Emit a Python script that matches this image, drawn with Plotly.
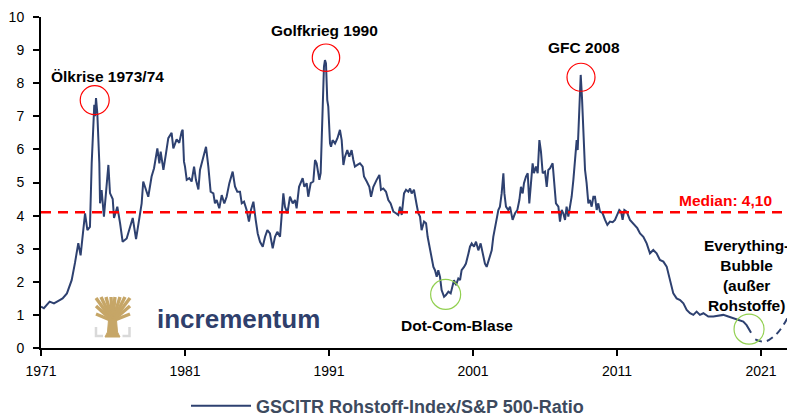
import plotly.graph_objects as go

# ---------------- data ----------------
YEARS = [1971.0, 1971.2, 1971.6, 1971.9, 1972.3, 1972.5, 1972.8, 1973.0, 1973.13, 1973.36, 1973.59, 1973.75, 1973.94,
         1974.06, 1974.22, 1974.4, 1974.52, 1974.63, 1974.7, 1974.75, 1974.82, 1974.91, 1975.05, 1975.1, 1975.21,
         1975.37, 1975.51, 1975.68, 1975.79, 1975.98, 1976.07, 1976.3, 1976.49, 1976.67, 1976.95, 1977.18, 1977.37,
         1977.6, 1977.83, 1977.99, 1978.1, 1978.29, 1978.45, 1978.68, 1978.85, 1979.08, 1979.22, 1979.31, 1979.5,
         1979.68, 1979.84, 1980.07, 1980.19, 1980.42, 1980.6, 1980.77, 1980.84, 1980.93, 1981.0, 1981.12, 1981.3,
         1981.46, 1981.63, 1981.76, 1981.93, 1982.04, 1982.23, 1982.46, 1982.62, 1982.78, 1982.97, 1983.08, 1983.2,
         1983.38, 1983.55, 1983.73, 1983.89, 1984.08, 1984.31, 1984.47, 1984.63, 1984.82, 1984.94, 1985.1, 1985.28,
         1985.44, 1985.58, 1985.75, 1985.91, 1986.05, 1986.21, 1986.4, 1986.56, 1986.72, 1986.9, 1987.09, 1987.25,
         1987.41, 1987.6, 1987.71, 1987.83, 1987.94, 1988.11, 1988.29, 1988.48, 1988.64, 1988.75, 1988.92, 1989.03,
         1989.17, 1989.29, 1989.45, 1989.56, 1989.73, 1989.91, 1990.03, 1990.14, 1990.33, 1990.42, 1990.56, 1990.65,
         1990.72, 1990.79, 1990.88, 1990.95, 1991.07, 1991.14, 1991.25, 1991.42, 1991.58, 1991.76, 1991.88, 1992.0,
         1992.11, 1992.27, 1992.41, 1992.57, 1992.69, 1992.8, 1992.97, 1993.15, 1993.34, 1993.43, 1993.62, 1993.8,
         1993.92, 1994.08, 1994.31, 1994.5, 1994.61, 1994.77, 1994.96, 1995.12, 1995.28, 1995.47, 1995.65, 1995.81,
         1995.93, 1996.05, 1996.21, 1996.35, 1996.51, 1996.63, 1996.74, 1996.9, 1997.09, 1997.2, 1997.32, 1997.43,
         1997.6, 1997.74, 1997.85, 1997.97, 1998.08, 1998.25, 1998.36, 1998.48, 1998.59, 1998.71, 1998.82, 1998.99,
         1999.12, 1999.29, 1999.45, 1999.59, 1999.68, 1999.82, 1999.98, 2000.1, 2000.21, 2000.38, 2000.51, 2000.68,
         2000.79, 2000.91, 2001.07, 2001.21, 2001.37, 2001.53, 2001.67, 2001.83, 2001.95, 2002.13, 2002.3, 2002.41,
         2002.53, 2002.64, 2002.76, 2002.87, 2002.99, 2003.11, 2003.18, 2003.29, 2003.45, 2003.57, 2003.75, 2003.92,
         2004.08, 2004.22, 2004.33, 2004.45, 2004.54, 2004.68, 2004.8, 2004.91, 2005.03, 2005.14, 2005.23, 2005.37,
         2005.49, 2005.61, 2005.72, 2005.84, 2006.0, 2006.12, 2006.23, 2006.35, 2006.53, 2006.62, 2006.76, 2006.93,
         2007.04, 2007.16, 2007.27, 2007.39, 2007.5, 2007.62, 2007.74, 2007.85, 2007.97, 2008.08, 2008.2, 2008.27,
         2008.38, 2008.48, 2008.57, 2008.66, 2008.78, 2008.89, 2009.01, 2009.12, 2009.24, 2009.36, 2009.47, 2009.59,
         2009.7, 2009.82, 2010.0, 2010.17, 2010.33, 2010.51, 2010.7, 2010.86, 2011.02, 2011.16, 2011.28, 2011.39,
         2011.51, 2011.67, 2011.9, 2012.13, 2012.41, 2012.6, 2012.83, 2013.06, 2013.29, 2013.52, 2013.75, 2013.98,
         2014.22, 2014.45, 2014.68, 2014.91, 2015.14, 2015.38, 2015.61, 2015.84, 2016.07, 2016.3, 2016.53, 2016.76,
         2017.0, 2017.34, 2017.69, 2018.04, 2018.38, 2018.73, 2019.08, 2019.43, 2019.77, 2020.0, 2020.17, 2020.31]

RATIO = [1.25, 1.2, 1.4, 1.35, 1.45, 1.5, 1.65, 1.9, 2.05, 2.57, 3.17, 2.8, 3.56,
         4.07, 3.56, 3.66, 5.58, 7.1, 7.35, 7.0, 7.55, 7.1, 5.58, 4.37, 4.77,
         3.97, 4.77, 5.53, 4.68, 4.5, 3.93, 4.27, 3.77, 3.21, 3.31, 3.66, 3.93,
         3.29, 3.97, 4.37, 5.03, 4.77, 4.57, 5.18, 5.43, 6.03, 5.58, 5.93, 5.38,
         5.88, 6.34, 6.5, 6.03, 6.3, 6.2, 6.54, 6.59, 5.63, 5.48, 5.08, 5.13,
         5.03, 5.48, 5.08, 4.79, 5.38, 5.68, 6.08, 5.48, 4.72, 4.67, 4.37, 4.47,
         4.22, 4.62, 4.37, 4.57, 4.98, 5.33, 4.88, 4.72, 4.72, 4.37, 4.42, 4.17,
         3.82, 4.17, 4.42, 3.87, 3.46, 3.21, 3.06, 3.36, 3.56, 3.46, 3.01, 3.36,
         3.51, 3.36, 4.07, 4.67, 4.27, 4.07, 4.57, 4.37, 4.47, 4.22, 4.87, 4.98,
         5.13, 4.87, 4.98, 4.57, 4.98, 5.03, 5.68, 5.58, 5.08, 5.28, 7.1, 8.5,
         8.7, 8.6, 7.49, 7.29, 6.18, 6.08, 6.28, 6.18, 6.33, 6.59, 6.28, 5.53,
         5.78, 5.98, 5.78, 5.98, 5.68, 5.48, 5.53, 5.58, 5.48, 5.18, 5.03, 4.87,
         4.57, 4.87, 5.08, 5.23, 4.78, 4.82, 4.72, 4.47, 4.37, 4.12, 4.07, 4.02,
         4.27, 4.02, 4.67, 4.78, 4.72, 4.82, 4.67, 4.78, 4.32, 4.07, 3.97, 3.56,
         3.82, 3.77, 3.36, 3.06, 2.75, 2.45, 2.35, 2.15, 2.35, 2.15, 1.75, 1.55,
         1.6, 1.7, 1.65, 1.85, 2.05, 1.9, 2.1, 2.05, 2.35, 2.45, 2.55, 2.85,
         3.06, 3.16, 3.06, 3.21, 2.95, 3.16, 2.85, 2.55, 2.45, 2.75, 2.95, 3.36,
         3.66, 3.87, 4.17, 4.27, 4.67, 5.28, 4.67, 4.27, 4.17, 4.27, 3.87, 4.07,
         4.17, 4.47, 4.87, 4.67, 4.98, 5.18, 5.28, 4.37, 5.08, 5.58, 5.28, 5.48,
         5.28, 6.28, 5.93, 5.28, 5.33, 4.87, 5.38, 5.43, 5.58, 4.98, 4.37, 4.27,
         3.82, 4.17, 4.07, 3.87, 4.27, 3.97, 4.27, 4.57, 5.08, 5.68, 6.28, 5.98,
         7.29, 8.25, 7.55, 6.74, 5.38, 4.98, 4.37, 4.47, 4.27, 4.57, 4.57, 4.17,
         4.37, 4.12, 4.07, 3.87, 3.72, 3.82, 3.8, 3.87, 4.02, 4.17, 4.12, 3.87,
         4.17, 4.12, 3.87, 3.77, 3.62, 3.46, 3.36, 3.16, 2.86, 2.96, 2.86, 2.66,
         2.61, 2.46, 2.05, 1.65, 1.5, 1.45, 1.35, 1.15, 1.05, 1.0, 1.1, 1.0,
         1.05, 0.95, 0.95, 0.97, 1.0, 0.95, 0.9, 0.85, 0.8, 0.69, 0.54, 0.46]

PROJ_YEARS = [2020.6, 2021.0, 2021.4, 2021.86, 2022.2, 2022.55, 2023.0, 2023.36, 2023.6]
PROJ_VALUES = [0.26, 0.2, 0.21, 0.34, 0.48, 0.69, 1.05, 1.45, 1.8]

MEDIAN = 4.10
SERIES_NAME = "GSCITR Rohstoff-Index/S&P 500-Ratio"
X_TICKS = [1971, 1981, 1991, 2001, 2011, 2021]
Y_TICKS = [0, 1, 2, 3, 4, 5, 6, 7, 8, 9, 10]

# highlighted events: (year, value, colour, radius px)
CIRCLES = [(1974.73, 7.49, "#ff0000", 14.5), (1990.79, 8.77, "#ff0000", 13.7),
           (2008.5, 8.18, "#ff0000", 14), (1999.1, 1.62, "#92d050", 15), (2020.17, 0.57, "#92d050", 15)]
LABELS = [("Ölkrise 1973/74", 1975.65, 8.19, "center"), ("Golfkrieg 1990", 1990.72, 9.58, "center"),
          ("GFC 2008", 2008.71, 9.07, "center"), ("Dot-Com-Blase", 1999.89, 0.67, "center"),
          ("Everything-<br>Bubble<br>(außer<br>Rohstoffe)", 2020.0, 2.19, "center")]

# ---------------- layout geometry ----------------
# The page body has an 8px default margin, so the figure is 8px smaller than the window.
W, H = 787, 408
ML, MR, MT, MB = 33, 0, 9, 68
PW, PH = W - ML - MR, H - MT - MB
X_MAX = 1971 + PW / 14.4

def px(x):  # window pixel -> paper fraction
    return (x - 8 - ML) / PW

def py(y):
    return (H - MB - (y - 8)) / PH

FONT = "Liberation Sans, Arial, sans-serif"
NAVY = "#2e4170"

fig = go.Figure()
fig.add_trace(go.Scatter(x=YEARS, y=RATIO, mode="lines", name=SERIES_NAME,
                         line=dict(color=NAVY, width=2)))
fig.add_trace(go.Scatter(x=PROJ_YEARS, y=PROJ_VALUES, mode="lines", showlegend=False,
                         line=dict(color=NAVY, width=2, dash="7px,5px", shape="spline")))

shapes = []
# median line
shapes.append(dict(type="line", xref="paper", yref="y", x0=0, x1=1, y0=MEDIAN, y1=MEDIAN,
                   line=dict(color="#ff0000", width=2.5, dash="10px,7px")))
for cx, cy, col, r in CIRCLES:
    shapes.append(dict(type="circle", xref="x", yref="y", xsizemode="pixel", ysizemode="pixel",
                       xanchor=cx, yanchor=cy, x0=-r, x1=r, y0=-r, y1=r,
                       line=dict(color=col, width=1.2)))

# logo tree (pixel-drawn, converted to paper)
GOLD = "#c6a667"
base = (112.5, 321)
ends = [(96, 298), (101, 297), (106, 297), (111, 297), (115, 297), (120, 297), (125, 297), (130, 298),
        (96, 306), (130, 306), (96, 314), (130, 314)]
for ex, ey in ends:
    shapes.append(dict(type="line", xref="paper", yref="paper", x0=px(base[0]), y0=py(base[1]),
                       x1=px(ex), y1=py(ey), line=dict(color=GOLD, width=3.4)))
trunk = [(108.5, 320), (116.5, 320), (117.5, 332), (120, 337), (105, 337), (107.5, 332)]
path = "M" + " L".join(f"{px(a):.5f},{py(b):.5f}" for a, b in trunk) + " Z"
shapes.append(dict(type="path", xref="paper", yref="paper", path=path,
                   fillcolor=GOLD, line=dict(color=GOLD, width=1)))
for pts in ([(96, 327), (96, 336), (103, 336)], [(129.5, 327), (129.5, 336), (122.5, 336)]):
    p = "M" + " L".join(f"{px(a):.5f},{py(b):.5f}" for a, b in pts)
    shapes.append(dict(type="path", xref="paper", yref="paper", path=p,
                       line=dict(color="#d9d9d9", width=2.5)))

annotations = []
for txt, x, y, al in LABELS:
    annotations.append(dict(text=f"<b>{txt}</b>", x=x, y=y, xref="x", yref="y", showarrow=False,
                            xanchor="center", yanchor="middle", align=al,
                            font=dict(family=FONT, size=15.5, color="#000000")))
annotations.append(dict(text=f"<b>Median: {MEDIAN:.2f}</b>".replace(".", ","), x=px(774), y=MEDIAN,
                        xref="paper", yref="y", yshift=12, showarrow=False,
                        xanchor="right", yanchor="middle",
                        font=dict(family=FONT, size=15.5, color="#ff0000")))
annotations.append(dict(text="<b>incrementum</b>", x=px(155), y=py(319), xref="paper", yref="paper",
                        showarrow=False, xanchor="left", yanchor="middle",
                        font=dict(family=FONT, size=26, color="#2f3f6c")))

fig.update_layout(
    width=W, height=H, margin=dict(l=ML, r=MR, t=MT, b=MB, pad=0, autoexpand=False),
    paper_bgcolor="white", plot_bgcolor="white",
    font=dict(family=FONT, size=14, color="#000000"),
    shapes=shapes, annotations=annotations,
    showlegend=True,
    legend=dict(orientation="h", x=px(186), y=py(406), xanchor="left", yanchor="middle",
                itemwidth=60, font=dict(family=FONT, size=18, color="#3d4a5e", weight="bold"),
                bgcolor="rgba(0,0,0,0)"),
)
fig.update_xaxes(range=[1971, X_MAX], tickmode="array", tickvals=X_TICKS, ticktext=[str(t) for t in X_TICKS],
                 showgrid=False, zeroline=False, showline=True, linecolor="#000000", linewidth=2,
                 ticks="outside", ticklen=6, tickwidth=1.5, tickcolor="#000000", automargin=False,
                 tickfont=dict(size=14, color="#000000"), ticklabelstandoff=3)
fig.update_yaxes(range=[0, 10], tickmode="array", tickvals=Y_TICKS,
                 showgrid=False, zeroline=False, showline=True, linecolor="#000000", linewidth=2,
                 ticks="outside", ticklen=6, tickwidth=1.5, tickcolor="#000000", automargin=False,
                 tickfont=dict(size=14, color="#000000"), ticklabelstandoff=6)

fig.write_html("out.html")
